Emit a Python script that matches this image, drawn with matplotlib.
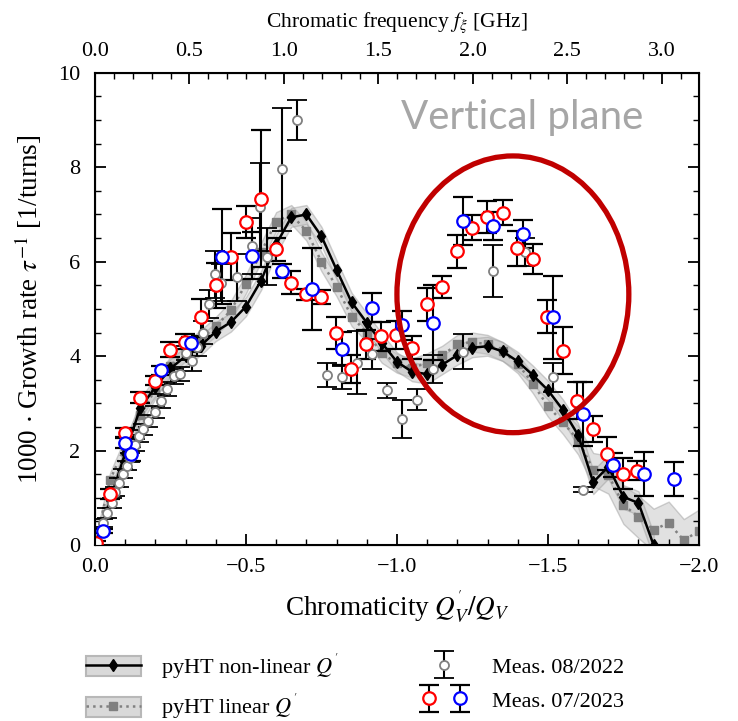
import matplotlib
matplotlib.use("Agg")
import matplotlib.pyplot as plt
from matplotlib.patches import Ellipse, Patch
from matplotlib.lines import Line2D
from matplotlib.legend_handler import HandlerTuple, HandlerErrorbar
from matplotlib.container import ErrorbarContainer
from matplotlib.ticker import MultipleLocator, FuncFormatter
import numpy as np

plt.rcParams['font.family'] = ['Liberation Serif', 'DejaVu Serif']
plt.rcParams['mathtext.fontset'] = 'stix'

# ---------------- data ----------------
# pyHT non-linear Q'
q_nl = [0.0, -0.05, -0.1, -0.15, -0.2, -0.25, -0.3, -0.35, -0.4, -0.45, -0.5, -0.55, -0.6,
        -0.65, -0.7, -0.75, -0.8, -0.85, -0.9, -0.95, -1.0, -1.05, -1.1, -1.15, -1.2,
        -1.25, -1.3, -1.35, -1.4, -1.45, -1.5, -1.55, -1.6, -1.65, -1.7, -1.75, -1.8, -1.85]
g_nl = [0.0, 0.95, 1.95, 2.9, 3.35, 3.74, 4.0, 4.22, 4.52, 4.72, 5.05, 5.6, 6.37,
        6.94, 7.0, 6.54, 5.83, 5.14, 4.71, 4.28, 3.88, 3.67, 3.62, 3.82, 4.02,
        4.18, 4.21, 4.1, 3.89, 3.6, 3.28, 2.86, 2.33, 1.33, 1.66, 1.02, 0.89, 0.0]
e_nl = [0.1, 0.15, 0.18, 0.2, 0.2, 0.2, 0.2, 0.2, 0.2, 0.2, 0.2, 0.2, 0.2,
        0.2, 0.2, 0.2, 0.2, 0.2, 0.2, 0.2, 0.2, 0.2, 0.2, 0.2, 0.2,
        0.2, 0.2, 0.2, 0.2, 0.2, 0.2, 0.22, 0.25, 0.25, 0.25, 0.25, 0.25, 0.25]

# pyHT linear Q'
q_lin = [0.0, -0.05, -0.1, -0.15, -0.2, -0.25, -0.3, -0.35, -0.4, -0.45, -0.5, -0.55, -0.6,
         -0.65, -0.7, -0.75, -0.8, -0.85, -0.9, -0.95, -1.0, -1.05, -1.1, -1.15, -1.2,
         -1.25, -1.3, -1.35, -1.4, -1.45, -1.5, -1.55, -1.6, -1.65, -1.7, -1.75, -1.8,
         -1.85, -1.9, -1.95, -2.0]
g_lin = [0.0, 1.38, 2.1, 2.75, 3.3, 3.8, 4.1, 4.35, 4.63, 4.97, 5.53, 6.2, 6.85,
         7.0, 6.65, 6.0, 5.47, 4.84, 4.5, 4.06, 3.85, 3.75, 3.86, 4.02, 4.25,
         4.3, 4.25, 4.1, 3.84, 3.42, 2.94, 2.6, 2.22, 1.6, 1.49, 0.85, 0.6,
         0.32, 0.47, 0.1, 0.3]
e_lin = [0.1, 0.15, 0.18, 0.2, 0.2, 0.2, 0.2, 0.2, 0.2, 0.2, 0.2, 0.2, 0.2,
         0.2, 0.2, 0.2, 0.2, 0.2, 0.2, 0.2, 0.2, 0.2, 0.2, 0.2, 0.2,
         0.2, 0.2, 0.2, 0.2, 0.2, 0.22, 0.25, 0.3, 0.35, 0.4, 0.4, 0.45,
         0.45, 0.45, 0.45, 0.45]

# Measurement 08/2022
q_22 = [-0.027, -0.039, -0.056, -0.066, -0.08, -0.093, -0.105, -0.116, -0.133, -0.146,
        -0.16, -0.177, -0.199, -0.218, -0.238, -0.262, -0.28, -0.301, -0.321, -0.338,
        -0.358, -0.377, -0.397, -0.417, -0.47, -0.52, -0.546, -0.57, -0.619, -0.669,
        -0.768, -0.818, -0.868, -0.917, -0.967, -1.017, -1.067, -1.119, -1.219, -1.318,
        -1.424, -1.517, -1.616]
g_22 = [0.47, 0.68, 0.89, 1.13, 1.32, 1.51, 1.68, 1.85, 2.12, 2.31,
        2.45, 2.63, 2.82, 3.05, 3.3, 3.57, 3.62, 4.06, 3.89, 4.2,
        4.5, 5.1, 5.73, 5.56, 5.67, 6.33, 7.15, 6.11, 7.96, 9.0,
        3.6, 3.55, 3.86, 4.05, 3.28, 2.67, 3.08, 3.73, 4.09, 5.8,
        6.2, 3.55, 1.17]
e_22 = [0.08, 0.1, 0.1, 0.1, 0.1, 0.1, 0.1, 0.1, 0.12, 0.12,
        0.12, 0.12, 0.12, 0.15, 0.15, 0.15, 0.15, 0.15, 0.2, 0.2,
        0.25, 0.3, 0.5, 0.4, 0.5, 0.6, 0.93, 0.6, 1.3, 0.42,
        0.25, 0.25, 0.67, 0.32, 0.16, 0.4, 0.22, 0.3, 0.37, 0.55,
        0.3, 0.3, 0.05]

# Measurement 07/2023 (red)
q_23r = [-0.005, -0.05, -0.1, -0.149, -0.199, -0.248, -0.298, -0.35, -0.4, -0.45,
         -0.5, -0.55, -0.6, -0.649, -0.699, -0.748, -0.798, -0.848, -0.897, -0.947,
         -0.997, -1.05, -1.099, -1.149, -1.199, -1.248, -1.298, -1.35, -1.397, -1.45,
         -1.497, -1.55, -1.596, -1.649, -1.695, -1.748, -1.795]
g_23r = [0.04, 1.08, 2.38, 3.12, 3.48, 4.14, 4.31, 4.82, 5.5, 6.11,
         6.85, 7.33, 6.26, 5.56, 5.31, 5.26, 4.5, 3.73, 4.25, 4.42,
         4.45, 4.18, 5.1, 5.46, 6.22, 6.72, 6.94, 7.04, 6.28, 6.05,
         4.84, 4.12, 3.06, 2.46, 1.93, 1.51, 1.57]
e_23r = [0.05, 0.1, 0.1, 0.12, 0.1, 0.15, 0.15, 0.4, 0.47, 0.5,
         0.34, 1.45, 0.25, 0.25, 0.12, 0.15, 0.34, 0.3, 0.3, 0.3,
         0.3, 0.25, 0.35, 0.23, 0.35, 0.27, 0.34, 0.27, 0.36, 0.32,
         0.34, 0.5, 0.4, 0.28, 0.35, 0.33, 0.2]

# Measurement 07/2023 (blue)
q_23b = [-0.027, -0.1, -0.118, -0.219, -0.318, -0.42, -0.52, -0.619, -0.719, -0.818,
         -0.917, -1.017, -1.119, -1.219, -1.318, -1.417, -1.517, -1.616, -1.715, -1.818,
         -1.917]
g_23b = [0.3, 2.16, 1.93, 3.7, 4.28, 6.11, 6.13, 5.8, 5.43, 4.16,
         5.03, 4.65, 4.71, 6.86, 6.76, 6.58, 4.82, 2.78, 1.7, 1.51,
         1.4]
e_23b = [0.05, 0.1, 0.15, 0.1, 0.12, 1.0, 0.5, 0.15, 0.87, 0.35,
         0.3, 0.3, 0.8, 0.5, 0.3, 0.3, 0.87, 0.68, 0.25, 0.47,
         0.36]

GHZ_PER_UNIT = 1.598
Q_MIN, Q_MAX = 0.0, -2.0

# ---------------- figure ----------------
fig = plt.figure(figsize=(7.38, 7.21), dpi=100)
ax = fig.add_axes([0.1287, 0.244, 0.8183, 0.655])

band_face = '#bdbdbd'
band_edge = '#9a9a9a'

qn, gn, en = np.array(q_nl), np.array(g_nl), np.array(e_nl)
ql, gl, el = np.array(q_lin), np.array(g_lin), np.array(e_lin)

ax.fill_between(ql, gl - el, gl + el, facecolor=band_face, edgecolor=band_edge,
                alpha=0.45, lw=1.0, zorder=1)
ax.fill_between(qn, gn - en, gn + en, facecolor=band_face, edgecolor=band_edge,
                alpha=0.45, lw=1.0, zorder=1)
ax.plot(ql, gl, ls=':', color='#808080', lw=1.8, marker='s', ms=6,
        mfc='#808080', mec='#808080', zorder=2)
ax.plot(qn, gn, ls='-', color='black', lw=1.8, marker='d', ms=6.5,
        mfc='black', mec='black', zorder=3)

eb_kw = dict(fmt='o', ecolor='black', elinewidth=1.5, capsize=7, capthick=1.5, zorder=4)
c22 = ax.errorbar(q_22, g_22, yerr=e_22, ms=6.5, mfc='white', mec='#808080', mew=1.3, **eb_kw)
c23r = ax.errorbar(q_23r, g_23r, yerr=e_23r, ms=9, mfc='white', mec='#ff0000', mew=1.6, **eb_kw)
c23b = ax.errorbar(q_23b, g_23b, yerr=e_23b, ms=9, mfc='white', mec='#0000ff', mew=1.6, **eb_kw)

ell = Ellipse((-1.384, 5.31), width=0.768, height=5.86, fill=False,
              edgecolor='#c00000', lw=3.8, zorder=6)
ax.add_patch(ell)

ax.text(-1.015, 9.05, 'Vertical plane', color='#a6a6a6', fontsize=29,
        family='Lato', ha='left', va='center', zorder=7)

ax.set_xlim(Q_MIN, Q_MAX)
ax.set_ylim(0, 10)
ax.xaxis.set_major_locator(MultipleLocator(0.5))
ax.xaxis.set_minor_locator(MultipleLocator(0.1))
ax.yaxis.set_major_locator(MultipleLocator(2))
ax.yaxis.set_minor_locator(MultipleLocator(0.5))
ax.xaxis.set_major_formatter(FuncFormatter(
    lambda v, p: '\u2212' + f'{abs(v):.1f}' if v < -1e-9 else f'{abs(v):.1f}'))
ax.yaxis.set_major_formatter(FuncFormatter(lambda v, p: f'{v:.0f}'))
ax.tick_params(which='both', direction='in', right=True, top=False, labelsize=16)
ax.tick_params(which='major', length=8, width=1.3)
ax.tick_params(which='minor', length=4, width=1.0)
ax.tick_params(axis='x', which='major', pad=9)
ax.tick_params(axis='y', which='major', pad=10.5)
for s in ax.spines.values():
    s.set_linewidth(1.5)

ax2 = ax.twiny()
ax2.set_xlim(-Q_MIN * GHZ_PER_UNIT, -Q_MAX * GHZ_PER_UNIT)
ax2.xaxis.set_major_locator(MultipleLocator(0.5))
ax2.xaxis.set_minor_locator(MultipleLocator(0.1))
ax2.xaxis.set_major_formatter(FuncFormatter(lambda v, p: f'{v:.1f}'))
ax2.tick_params(which='both', direction='in', labelsize=16)
ax2.tick_params(which='major', length=8, width=1.3, pad=8.5)
ax2.tick_params(which='minor', length=4, width=1.0)
ax2.set_xlabel(r'Chromatic frequency $f_\xi$ [GHz]', fontsize=15.5, labelpad=11)

ax.set_xlabel(r"Chromaticity $Q_V^{'}/Q_V$", fontsize=19.5, labelpad=8)
ax.set_ylabel(r'1000 $\cdot$ Growth rate $\tau^{-1}$ [1/turns]', fontsize=19.5, labelpad=10)

# ---------------- legend ----------------
h_nl = (Patch(facecolor='#d9d9d9', edgecolor='#b8b8b8', lw=1.5),
        Line2D([], [], color='black', lw=1.8, marker='d', ms=6.5))
h_lin = (Patch(facecolor='#d9d9d9', edgecolor='#b8b8b8', lw=1.5),
         Line2D([], [], color='#808080', ls=':', lw=1.8, marker='s', ms=6))
h_pair = (c23r, c23b)
fig.legend([h_nl, h_lin, c22, h_pair],
           [r"pyHT non-linear $Q^{'}$", r"pyHT linear $Q^{'}$",
            'Meas. 08/2022', 'Meas. 07/2023'],
           handler_map={h_nl: HandlerTuple(ndivide=1),
                        h_lin: HandlerTuple(ndivide=1),
                        h_pair: HandlerTuple(ndivide=None, pad=0.25),
                        ErrorbarContainer: HandlerErrorbar(xerr_size=0.6)},
           ncol=2, frameon=False, fontsize=16, loc='upper left',
           bbox_to_anchor=(0.089, 0.125), handlelength=2.5, handleheight=1.0,
           handletextpad=0.9, columnspacing=3.5, labelspacing=0.5,
           borderpad=0.4)

fig.savefig('out.png', dpi=100)
